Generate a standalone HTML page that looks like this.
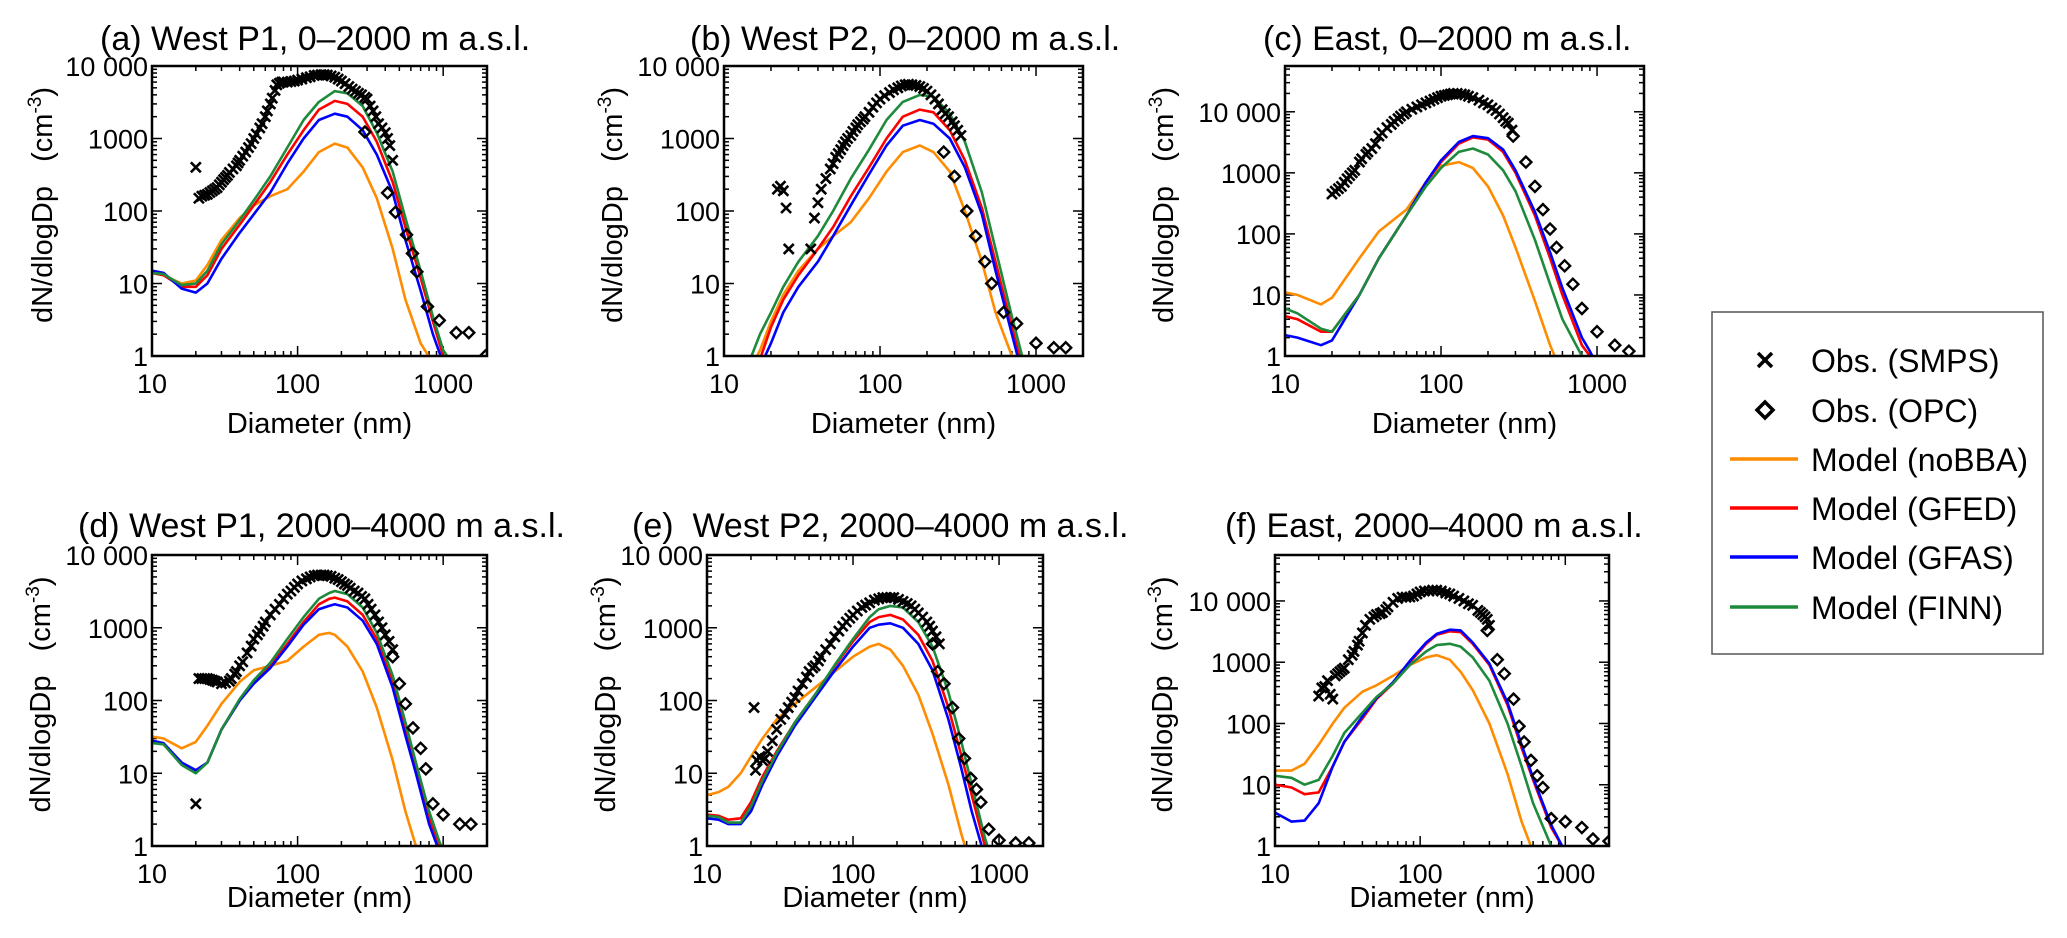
<!DOCTYPE html>
<html><head><meta charset="utf-8"><style>
html,body{margin:0;padding:0;background:#fff;}
svg{display:block;font-family:"Liberation Sans",Arial,sans-serif;}
</style></head><body>
<svg id="fig" width="2067" height="938" viewBox="0 0 2067 938" xmlns="http://www.w3.org/2000/svg">
<g id="legend">
<rect x="1712" y="312" width="331" height="342" fill="#fff" stroke="#555" stroke-width="1.5"/>
<g><path d="M1758,353 l14,14 M1772,353 l-14,14" stroke="#000" stroke-width="3.5"/><text x="1811" y="372" font-size="32">Obs. (SMPS)</text></g>
<g><path d="M1765,402 l8,8 l-8,8 l-8,-8 z" fill="none" stroke="#000" stroke-width="3.5"/><text x="1811" y="422" font-size="32">Obs. (OPC)</text></g>
<g><line x1="1730" y1="459" x2="1798" y2="459" stroke="#ff8c00" stroke-width="3.5"/><text x="1811" y="471" font-size="32">Model (noBBA)</text></g>
<g><line x1="1730" y1="508" x2="1798" y2="508" stroke="#ff0000" stroke-width="3.5"/><text x="1811" y="520" font-size="32">Model (GFED)</text></g>
<g><line x1="1730" y1="557" x2="1798" y2="557" stroke="#0000ff" stroke-width="3.5"/><text x="1811" y="569" font-size="32">Model (GFAS)</text></g>
<g><line x1="1730" y1="607" x2="1798" y2="607" stroke="#1e8a3c" stroke-width="3.5"/><text x="1811" y="619" font-size="32">Model (FINN)</text></g>
</g>
</svg>
<script>
// ---- data (diameters in nm, values dN/dlogDp in cm^-3) ----
const aModelD = [10,12,16,20,24,30,40,50,65,85,110,140,180,220,280,350,450,550,700,850,1000,1150];
const aNoBBA = [14,13,10,11,18,40,80,120,160,200,350,650,850,750,400,150,30,6,1.5,0.8,0.5,0.4];
const aGFED  = [14,13,9,9,13,30,65,120,250,600,1300,2500,3300,3000,2000,900,250,60,12,3,1,0.8];
const aGFAS  = [15,14,8.5,7.5,10,22,50,90,180,450,1000,1800,2200,2000,1300,600,180,40,8,2,0.8,0.5];
const aFINN  = [14,13.5,9.5,10,15,35,75,140,300,750,1800,3200,4500,4200,2800,1200,350,80,15,3.5,1.2,0.8];
const aSmpsD = [20,21,22,23,24,25,26,27,28,29,30,31,32,33,34,36,38,39,40,42,44,46,48,50,52,55,57,60,62,65,67,70,72,75,78,80,85,90,95,100,107,115,122,130,137,145,152,160,170,180,190,200,212,225,237,250,262,275,290,300,315,330,345,360,380,400,415,430,450];
const aSmps  = [400,150,160,165,170,180,190,200,210,230,250,270,290,310,340,380,420,460,500,570,650,750,850,1000,1150,1400,1600,2000,2400,3000,3600,4600,5500,5800,6000,6000,6000,6100,6200,6400,6600,6900,7100,7400,7500,7600,7600,7500,7300,7000,6600,6200,5700,5200,4800,4500,4200,4000,3700,3500,2800,2400,2000,1600,1400,1200,1000,800,500];
const aOpcD = [290,415,470,560,615,660,780,940,1230,1500,1950];
const aOpc  = [1230,178,96,47,26,14.5,4.8,3.1,2.1,2.1,1];

const bModelD = [10,12,15,17,20,24,30,40,50,65,85,110,140,180,220,280,350,450,550,700,850,1000];
const bNoBBA = [0.1,0.3,0.7,1.2,3,7,15,30,45,70,150,350,650,800,650,350,100,20,4,1,0.3,0.1];
const bGFED  = [0.1,0.2,0.5,0.9,2.5,6,13,30,60,160,400,1000,2000,2500,2300,1300,500,110,20,2.5,0.5,0.1];
const bGFAS  = [0.1,0.15,0.4,0.7,1.5,4,9,20,45,120,320,800,1500,1800,1600,1000,400,90,15,2,0.4,0.1];
const bFINN  = [0.2,0.5,1,2,4,9,20,45,100,280,700,1800,3200,4000,3800,2200,900,180,30,3.5,0.7,0.2];
const bSmpsD = [22,23,24,25,26,36,38,40,42,45,48,50,52,54,56,58,60,62,65,67,70,72,75,78,80,85,90,95,100,107,115,122,130,137,145,152,160,170,180,190,200,212,225,237,250,262,275,290,300,315,330];
const bSmps  = [200,220,190,110,30,30,80,130,200,280,380,450,550,620,700,800,900,1000,1100,1250,1400,1550,1700,1850,2000,2300,2700,3100,3500,3900,4300,4700,5000,5300,5500,5600,5500,5400,5200,4900,4500,4000,3500,3000,2500,2200,2000,1700,1500,1300,1100];
const bOpcD = [256,300,360,410,470,520,620,750,1000,1300,1550];
const bOpc  = [650,300,100,45,20,10,4,2.8,1.5,1.3,1.3];

const cModelD = [10,12,17,20,30,40,60,80,100,130,160,200,250,300,400,500,600,800,900,1000];
const cNoBBA = [11,10,7,9,40,110,250,700,1300,1500,1200,600,200,60,8,1.5,0.5,0.2,0.1,0.1];
const cGFED  = [4.5,4,2.5,2.5,10,40,200,700,1500,3000,3800,3500,2200,1000,200,40,10,1.5,1,0.6];
const cGFAS  = [2.2,2,1.5,1.8,10,40,200,700,1600,3200,4000,3700,2400,1100,230,50,13,2,1.2,0.7];
const cFINN  = [6,5,2.8,2.5,10,40,200,600,1200,2200,2500,2000,1100,500,80,15,4,1,0.6,0.3];
const cSmpsD = [20,21,22,23,24,25,26,27,28,30,31,33,34,36,38,40,42,45,48,50,53,55,58,60,65,70,75,80,85,90,95,100,105,110,115,120,127,135,142,150,160,175,187,200,212,225,237,250,260,270,285];
const cSmps  = [450,500,550,600,700,800,900,1000,1100,1500,1700,2000,2200,2500,3000,4000,4500,5500,6200,7000,7700,8500,9200,10000,11000,12000,13000,14000,15000,16000,17000,18000,18500,19000,19500,20000,20000,19500,19000,18000,17000,15500,14000,13000,11500,10500,9200,8000,7000,6500,5000];
const cOpcD = [290,350,400,450,500,550,620,700,800,1000,1300,1600];
const cOpc  = [4000,1500,600,250,120,60,30,15,6,2.5,1.5,1.2];

const dModelD = [10,12,16,20,24,30,40,50,65,85,110,140,165,180,220,280,350,450,550,650,800,950,1100];
const dNoBBA = [32,30,22,27,45,90,180,260,300,350,550,800,850,800,550,250,80,15,3,1,0.4,0.2,0.1];
const dGFED  = [27,25,14,10.5,14,40,100,180,300,600,1200,2100,2500,2600,2300,1500,700,180,40,12,2.5,1,0.5];
const dGFAS  = [28,26,14,11,14,40,100,170,280,550,1100,1800,2000,2100,1900,1250,600,150,33,10,2,0.8,0.4];
const dFINN  = [26,25,13,10,14,40,105,190,330,700,1400,2500,3000,3200,2900,1900,850,220,50,14,3,1.1,0.6];
const dSmpsD = [20,21,22,23,24,25,26,27,28,30,32,34,35,37,38,40,42,45,48,50,53,55,58,60,65,70,75,80,85,90,95,100,107,115,122,130,137,145,152,160,170,180,190,200,210,220,230,245,260,275,290,305,320,340,360,380,400,425,450];
const dSmps  = [3.8,200,200,200,200,195,190,185,180,170,175,185,200,230,250,300,340,450,560,700,800,900,1050,1200,1500,1800,2100,2500,2900,3200,3600,4000,4400,4700,5000,5200,5300,5300,5300,5200,5100,4800,4600,4300,4000,3800,3500,3200,3000,2700,2500,2100,1800,1500,1200,1000,800,650,500];
const dOpcD = [450,500,550,620,700,760,850,1000,1300,1550];
const dOpc  = [400,170,90,42,22,11.5,3.8,2.7,2,2];

const eModelD = [10,12,14,17,20,24,30,40,55,75,100,130,150,180,220,280,350,450,550,650,800,900];
const eNoBBA = [5,5.5,6.5,10,17,30,55,90,150,250,400,550,600,500,300,120,35,7,1.5,0.5,0.2,0.1];
const eGFED  = [2.7,2.6,2.3,2.4,4,9,20,50,120,300,650,1200,1400,1500,1300,800,350,80,18,5,1,0.5];
const eGFAS  = [2.4,2.3,2,2,3,7,17,45,110,260,550,1000,1100,1150,1000,600,260,55,12,3,0.7,0.3];
const eFINN  = [2.6,2.5,2.1,2.1,3.5,8,19,50,120,310,700,1400,1800,2000,1900,1200,550,130,28,7,1.3,0.6];
const eSmpsD = [21,21.5,22,23,24,25,26,28,30,32,34,36,38,40,42,45,48,50,53,55,58,60,65,70,75,80,85,90,95,100,107,115,122,130,140,150,160,170,180,190,205,220,235,250,265,280,300,320,335,350,370,390];
const eSmps  = [80,11,15,17,15,16,20,28,40,55,65,80,95,110,135,170,210,250,280,300,350,400,500,600,750,900,1050,1200,1350,1500,1700,1900,2050,2200,2400,2500,2600,2600,2600,2600,2450,2300,2150,2000,1800,1600,1400,1200,1050,900,750,600];
const eOpcD = [350,380,420,480,530,580,640,700,750,850,1000,1300,1600];
const eOpc  = [600,250,170,80,30,16,8.5,6,4,1.7,1.2,1.1,1.1];

const fModelD = [10,13,16,20,25,30,40,50,65,85,110,130,160,190,230,300,400,500,600,800,950,1100];
const fNoBBA = [17,17,22,45,100,180,330,420,600,900,1200,1300,1100,700,350,100,15,2.5,0.8,0.2,0.1,0.1];
const fGFED  = [10,9,7,7.5,20,50,120,250,450,1000,2000,2800,3200,3100,2000,900,200,40,12,2,1,0.5];
const fGFAS  = [3.5,2.5,2.6,5,20,50,130,260,470,1050,2100,2900,3400,3300,2100,950,220,45,13,2.2,1,0.5];
const fFINN  = [14,13,10,12,30,70,150,270,450,900,1500,1900,2000,1800,1200,500,100,20,5,1,0.5,0.3];
const fSmpsD = [20,21,22,23,24,25,26,27,28,29,30,32,34,35,37,38,40,42,45,48,50,53,55,58,60,65,70,75,80,85,90,95,100,107,115,122,130,140,150,160,170,185,200,215,230,250,260,270,280,290,300];
const fSmps  = [280,380,400,500,300,250,600,650,700,750,800,1100,1300,1500,1900,2200,3000,4000,5000,5500,6000,6200,6500,7200,8000,9500,11000,11500,11500,11600,12000,13000,14000,14500,14500,15000,15000,14500,13500,13000,12000,11000,10000,9000,8500,7000,6500,6000,5500,5000,4000];
const fOpcD = [290,340,380,440,480,520,580,640,700,800,1000,1300,1550,2000];
const fOpc  = [3300,1100,650,250,90,50,25,14,9,2.8,2.5,2,1.3,1.2];

// ---- layout ----
const panels = [
 {id:'a',title:'(a) West P1, 0–2000 m a.s.l.',tx:100,ty:50,anchor:'start',L:152,R:487,T:66,B:356,yMax:4,ytOff:100,xtY:433,
  D:aModelD,m:[aNoBBA,aGFED,aGFAS,aFINN],sD:aSmpsD,s:aSmps,oD:aOpcD,o:aOpc},
 {id:'b',title:'(b) West P2, 0–2000 m a.s.l.',tx:690,ty:50,anchor:'start',L:724,R:1083,T:66,B:356,yMax:4,ytOff:102,xtY:433,
  D:bModelD,m:[bNoBBA,bGFED,bGFAS,bFINN],sD:bSmpsD,s:bSmps,oD:bOpcD,o:bOpc},
 {id:'c',title:'(c) East, 0–2000 m a.s.l.',tx:1263,ty:50,anchor:'start',L:1285,R:1644,T:66,B:356,yMax:4.75,ytOff:112,xtY:433,
  D:cModelD,m:[cNoBBA,cGFED,cGFAS,cFINN],sD:cSmpsD,s:cSmps,oD:cOpcD,o:cOpc},
 {id:'d',title:'(d) West P1, 2000–4000 m a.s.l.',tx:78,ty:537,anchor:'start',L:152,R:487,T:555,B:846,yMax:4,ytOff:102,xtY:907,
  D:dModelD,m:[dNoBBA,dGFED,dGFAS,dFINN],sD:dSmpsD,s:dSmps,oD:dOpcD,o:dOpc},
 {id:'e',title:'(e)\u00a0 West P2, 2000–4000 m a.s.l.',tx:632,ty:537,anchor:'start',L:707,R:1043,T:555,B:846,yMax:4,ytOff:92,xtY:907,
  D:eModelD,m:[eNoBBA,eGFED,eGFAS,eFINN],sD:eSmpsD,s:eSmps,oD:eOpcD,o:eOpc},
 {id:'f',title:'(f) East, 2000–4000 m a.s.l.',tx:1225,ty:537,anchor:'start',L:1275,R:1609,T:555,B:846,yMax:4.75,ytOff:103,xtY:907,
  D:fModelD,m:[fNoBBA,fGFED,fGFAS,fFINN],sD:fSmpsD,s:fSmps,oD:fOpcD,o:fOpc}
];
const colors = ['#ff8c00','#ff0000','#0000ff','#1e8a3c'];
const seriesNames = ['nobba','gfed','gfas','finn'];
const yTickVals = [1,10,100,1000,10000];
const yTickLabels = ['1','10','100','1000','10 000'];
const xTickVals = [10,100,1000];
const xTickLabels = ['10','100','1000'];

const NS='http://www.w3.org/2000/svg';
const svg=document.getElementById('fig');
function mk(tag,attrs,parent){const e=document.createElementNS(NS,tag);for(const k in attrs)e.setAttribute(k,attrs[k]);parent.appendChild(e);return e;}

panels.forEach(p=>{
  const xMin=1, xMax=Math.log10(2000);
  const sx=v=>p.L+(Math.log10(v)-xMin)/(xMax-xMin)*(p.R-p.L);
  const sy=v=>p.B-(Math.log10(v)-0)/(p.yMax-0)*(p.B-p.T);
  const g=mk('g',{},svg);
  
  
  const t=mk('text',{x:p.tx,y:p.ty,'font-size':34,'text-anchor':p.anchor},g);
  t.textContent=p.title;
  
  
  const cp=mk('clipPath',{id:'clip'+p.id},g);
  mk('rect',{x:p.L,y:p.T,width:p.R-p.L,height:p.B-p.T},cp);
  const tk=mk('g',{stroke:'#000','stroke-width':1.5},g);
  
  
  for(let dec=1;dec<=3;dec++){for(let m=1;m<10;m++){const v=m*Math.pow(10,dec);if(v>2000)break;const x=sx(v);const len=m===1?10:5;
    mk('line',{x1:x,y1:p.B,x2:x,y2:p.B-len},tk);mk('line',{x1:x,y1:p.T,x2:x,y2:p.T+len},tk);}}
  for(let dec=0;dec<5;dec++){for(let m=1;m<10;m++){const v=m*Math.pow(10,dec);if(Math.log10(v)>p.yMax)break;const y=sy(v);const len=m===1?10:5;
    mk('line',{x1:p.L,y1:y,x2:p.L+len,y2:y},tk);mk('line',{x1:p.R,y1:y,x2:p.R-len,y2:y},tk);}}
  yTickVals.forEach((v,i)=>{const tl=mk('text',{x:p.L-4,y:sy(v)+10,'font-size':27,'text-anchor':'end'},g);tl.textContent=yTickLabels[i];
    
    });
  xTickVals.forEach((v,i)=>{const tl=mk('text',{x:sx(v),y:p.B+37,'font-size':27,'text-anchor':'middle'},g);tl.textContent=xTickLabels[i];
    
    });
  const xt=mk('text',{x:(p.L+p.R)/2,y:p.xtY,'font-size':29,'text-anchor':'middle'},g);
  xt.textContent='Diameter (nm)';
  
  
  const yc=(p.T+p.B)/2-6, yx=p.L-p.ytOff;
  const yt=mk('text',{x:yx,y:yc,'font-size':29,'text-anchor':'middle',transform:`rotate(-90 ${yx} ${yc})`},g);
  yt.innerHTML='dN/dlogDp&#160;&#160;&#160;(cm<tspan dy="-11" font-size="19">-3</tspan><tspan dy="11">)</tspan>';
  
  
  const plot=mk('g',{'clip-path':`url(#clip${p.id})`},g);
  p.m.forEach((vals,i)=>{const d=vals.map((v,j)=>(j?'L':'M')+sx(p.D[j]).toFixed(1)+','+sy(v).toFixed(1)).join(' ');
    const pl=mk('path',{d:d,fill:'none',stroke:colors[i],'stroke-width':2.6,'stroke-linejoin':'round'},plot);
    
    });
  p.s.forEach((v,j)=>{const x=sx(p.sD[j]),y=sy(v);
    const c=mk('path',{d:`M${x-5},${y-5} l10,10 M${x+5},${y-5} l-10,10`,stroke:'#000','stroke-width':2.6},plot);
    
    });
  p.o.forEach((v,j)=>{const x=sx(p.oD[j]),y=sy(v);
    const c=mk('path',{d:`M${x},${y-5.5} l5.5,5.5 l-5.5,5.5 l-5.5,-5.5 z`,fill:'none',stroke:'#000','stroke-width':2.4},plot);
    
    });
  const fr=mk('rect',{x:p.L,y:p.T,width:p.R-p.L,height:p.B-p.T,fill:'none',stroke:'#000','stroke-width':2.5},g);
  
  
});
</script>
</body></html>
